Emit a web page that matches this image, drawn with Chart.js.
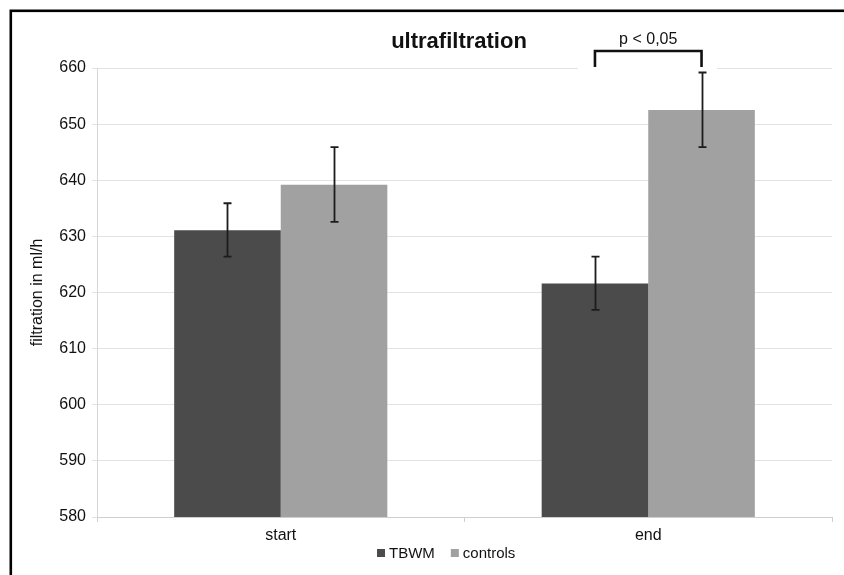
<!DOCTYPE html>
<html>
<head>
<meta charset="utf-8">
<script src="https://cdn.jsdelivr.net/npm/chart.js@4/dist/chart.umd.min.js"></script>
<style>
html,body{margin:0;padding:0;background:#fff;}
#wrap{width:844px;height:575px;position:relative;}
</style>
</head>
<body>
<div id="wrap"><canvas id="c" width="844" height="575"></canvas></div>
<script>
const categories = ['start', 'end'];
const seriesNames = ['TBWM', 'controls'];
const tbwm = [631.1, 621.6];
const controls = [639.2, 652.5];
const tbwmErrLow = [626.4, 616.9];
const tbwmErrHigh = [635.9, 626.4];
const controlsErrLow = [632.6, 645.9];
const controlsErrHigh = [645.9, 659.2];
const yTicks = [580, 590, 600, 610, 620, 630, 640, 650, 660];
const titleText = 'ultrafiltration';
const yTitle = 'filtration in ml/h';
const sigText = 'p < 0,05';

const colors = ['#4b4b4b', '#a1a1a1'];
const FONT = '"Liberation Sans", Arial, sans-serif';

const errs = [[tbwmErrLow, tbwmErrHigh], [controlsErrLow, controlsErrHigh]];

const extras = {
  id: 'extras',
  beforeDatasetsDraw(chart) {
    const ctx = chart.ctx;
    // gap in top gridline behind significance bracket
    ctx.save();
    ctx.fillStyle = '#fff';
    ctx.fillRect(578, 60, 139, 12);
    ctx.restore();
  },
  afterDatasetsDraw(chart) {
    const ctx = chart.ctx;
    const y = chart.scales.y;
    ctx.save();
    // error bars
    ctx.strokeStyle = '#1c1c1c';
    ctx.lineWidth = 1.8;
    for (let d = 0; d < 2; d++) {
      const meta = chart.getDatasetMeta(d);
      meta.data.forEach((bar, i) => {
        const x = Math.round(bar.x) + 0.5;
        const yl = y.getPixelForValue(errs[d][0][i]);
        const yh = y.getPixelForValue(errs[d][1][i]);
        ctx.beginPath();
        ctx.moveTo(x, yl); ctx.lineTo(x, yh);
        ctx.moveTo(x - 4, yl); ctx.lineTo(x + 4, yl);
        ctx.moveTo(x - 4, yh); ctx.lineTo(x + 4, yh);
        ctx.stroke();
      });
    }
    // significance bracket between the two "end" bars
    const x1 = chart.getDatasetMeta(0).data[1].x;
    const x2 = chart.getDatasetMeta(1).data[1].x;
    const top = 51, bot = 67;
    ctx.strokeStyle = '#111';
    ctx.lineWidth = 2.6;
    ctx.lineJoin = 'miter';
    ctx.beginPath();
    ctx.moveTo(x1, bot); ctx.lineTo(x1, top); ctx.lineTo(x2, top); ctx.lineTo(x2, bot);
    ctx.stroke();
    ctx.fillStyle = '#111';
    ctx.font = '16px ' + FONT;
    ctx.textAlign = 'center';
    ctx.textBaseline = 'alphabetic';
    ctx.fillText(sigText, (x1 + x2) / 2, 44);
    ctx.restore();
  },
  afterDraw(chart) {
    const ctx = chart.ctx;
    ctx.save();
    // outer frame
    ctx.strokeStyle = '#000';
    ctx.lineWidth = 2.6;
    ctx.strokeRect(10.8, 10.8, 900, 700);
    // title
    ctx.fillStyle = '#111';
    ctx.font = 'bold 22px ' + FONT;
    ctx.textAlign = 'center';
    ctx.textBaseline = 'alphabetic';
    ctx.fillText(titleText, 459, 48);
    // legend
    ctx.font = '15px ' + FONT;
    ctx.textAlign = 'left';
    let lx = 377;
    const ly = 553;
    seriesNames.forEach((name, i) => {
      ctx.fillStyle = colors[i];
      ctx.fillRect(lx, ly - 4, 8, 8);
      ctx.fillStyle = '#111';
      ctx.textBaseline = 'middle';
      ctx.fillText(name, lx + 12, ly + 1);
      lx += 12 + ctx.measureText(name).width + 16;
    });
    ctx.restore();
  }
};

new Chart(document.getElementById('c'), {
  type: 'bar',
  data: {
    labels: categories,
    datasets: [
      { label: seriesNames[0], data: tbwm, backgroundColor: colors[0], borderWidth: 0 },
      { label: seriesNames[1], data: controls, backgroundColor: colors[1], borderWidth: 0 }
    ]
  },
  options: {
    responsive: false,
    animation: false,
    devicePixelRatio: 1,
    layout: { padding: { top: 68, left: 0, right: 12, bottom: 0 } },
    datasets: { bar: { categoryPercentage: 0.58, barPercentage: 1.0 } },
    plugins: {
      legend: { display: false },
      title: { display: false },
      tooltip: { enabled: false }
    },
    scales: {
      x: {
        grid: { drawOnChartArea: false, drawTicks: true, tickLength: 5, color: '#cfcfcf' },
        border: { color: '#cfcfcf', width: 1 },
        ticks: { color: '#111', font: { family: FONT, size: 16 }, padding: 4 },
        afterFit(s) { s.height = 58; }
      },
      y: {
        min: 580, max: 660,
        afterBuildTicks(s) { s.ticks = yTicks.map(v => ({ value: v })); },
        grid: { color: '#e3e3e3', tickLength: 5, drawTicks: true },
        border: { color: '#d6d6d6', width: 1 },
        ticks: { color: '#111', font: { family: FONT, size: 16 }, padding: 6 },
        title: { display: true, text: yTitle, color: '#111', font: { family: FONT, size: 16 }, padding: { top: 28, bottom: 0 } },
        afterFit(s) { s.width = 97; }
      }
    }
  },
  plugins: [extras]
});
</script>
</body>
</html>
